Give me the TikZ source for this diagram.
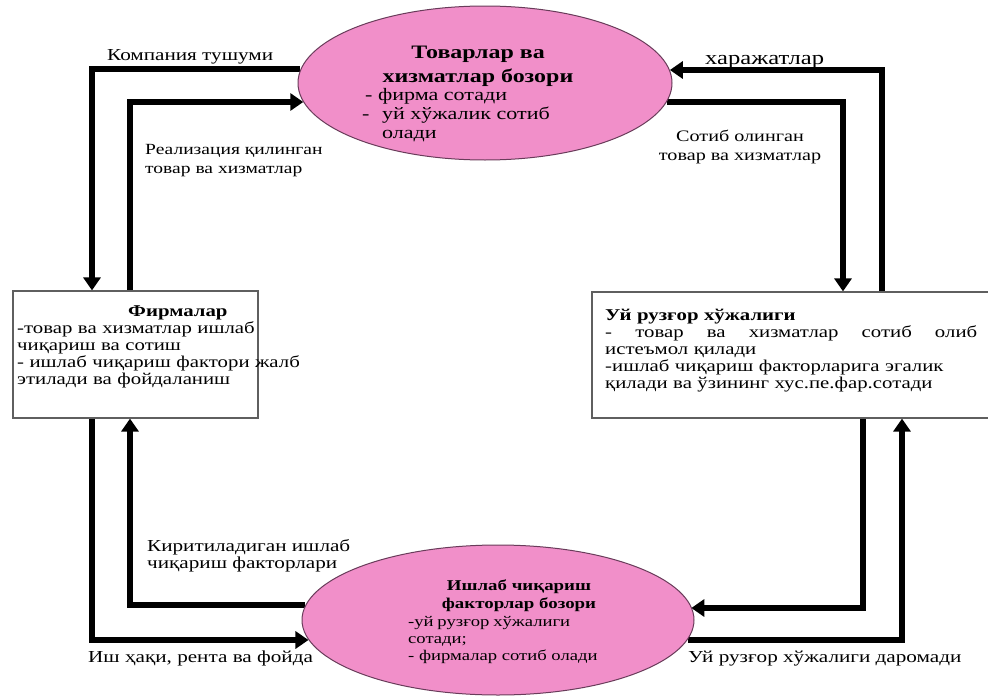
\documentclass[tikz,border=0pt]{standalone}
\usepackage{fontspec}
\setmainfont{Liberation Serif}[FakeStretch=1.26]
\usetikzlibrary{arrows.meta,shapes.geometric}
\definecolor{pinkfill}{RGB}{241,143,201}
\definecolor{ellipseedge}{RGB}{105,60,90}
\definecolor{boxedge}{RGB}{95,95,95}
\pgfdeclarelayer{bg}
\pgfsetlayers{bg,main}
\newcommand\lblf{\fontsize{16.8}{19}\selectfont}
\newcommand\boxf{\fontsize{16.5}{17}\selectfont}
\tikzset{
  flow/.style={line width=5.5pt, draw=black},
  tipflow/.style={flow, -{Triangle[length=13pt,width=17pt]}},
  market/.style={ellipse, draw=ellipseedge, line width=1pt, fill=pinkfill, inner sep=0pt},
  agent/.style={rectangle, draw=boxedge, line width=1.2pt, fill=white, inner sep=0pt},
  txt/.style={inner sep=0pt, text=black},
}
\begin{document}
\begin{tikzpicture}[x=1pt,y=-1pt]
\useasboundingbox (0,0) rectangle (988,696);
\clip (0,0) rectangle (988,696);
% nodes
\node[market, minimum width=374pt, minimum height=154pt] (tm) at (485,83) {};
\node[market, minimum width=392pt, minimum height=150pt] (fm) at (498,620) {};
\node[agent, minimum width=245pt, minimum height=127pt] (firms) at (135.5,354.5) {};
\node[agent, minimum width=400pt, minimum height=126pt] (hh) at (792,355) {};
% corner coordinates
\coordinate (p1) at (92,69);
\coordinate (p2) at (130,102);
\coordinate (q1) at (882,70);
\coordinate (q2) at (843,102);
\coordinate (r1) at (92,640);
\coordinate (r2) at (130,605);
\coordinate (s1) at (902,640);
\coordinate (s2) at (863,608);
\begin{pgfonlayer}{bg}
\fill[white] (0,0) rectangle (988,696);
\draw[tipflow] (tm.176 |- p1) -- (p1) -- (p1 |- firms.north);
\draw[tipflow] (p2 |- firms.north) -- (p2) -- (tm.186 |- p2);
\draw[tipflow] (q1 |- hh.north) -- (q1) -- (tm.4 |- q1);
\draw[tipflow] (tm.354 |- q2) -- (q2) -- (q2 |- hh.north);
\draw[tipflow] (r1 |- firms.south) -- (r1) -- (fm.186 |- r1);
\draw[tipflow] (fm.176 |- r2) -- (r2) -- (r2 |- firms.south);
\draw[tipflow] (s2 |- hh.south) -- (s2) -- (fm.4 |- s2);
\draw[tipflow] (fm.354 |- s1) -- (s1) -- (s1 |- hh.south);
\end{pgfonlayer}
% ellipse texts
\node[txt, anchor=north, align=center, font=\fontsize{19}{24}\selectfont\bfseries] (tmtitle) at (478,41.2)
  {\strut Товарлар ва\\хизматлар бозори};
\node[txt, anchor=north west, align=left, font=\fontsize{17.5}{19}\selectfont] (tmbody) at (362,86.7)
  {\strut\hspace*{3pt}- фирма сотади\\-\hspace{12.5pt}уй хўжалик сотиб\\\hspace*{20pt}олади};
\node[txt, anchor=north, align=center, font=\fontsize{15}{18}\selectfont\bfseries] (fmtitle) at (519,577.4)
  {\strut Ишлаб чиқариш\\факторлар бозори};
\node[txt, anchor=north west, align=left, font=\fontsize{14.8}{17}\selectfont] (fmbody) at (408,614.1)
  {\strut\hbox to 162pt{-уй\hfil\ рузғор\hfil\ хўжалиги}\\сотади;\\- фирмалар сотиб олади};
% box texts
\node[txt, anchor=north west, text width=237pt, font=\boxf] (firmstext) at (17,304.1)
  {\parindent=0pt\strut\hspace*{111pt}\textbf{Фирмалар}\par
   \hbox to 237pt{-товар\hfil\ ва\hfil\ хизматлар\hfil\ ишлаб}
   чиқариш ва сотиш\par
   \hbox to 237pt{-\ ишлаб\hfil\ чиқариш\hfil\ фактори\hfil\ жалб}
   этилади ва фойдаланиш};
\node[txt, anchor=north west, text width=372pt, font=\boxf] (hhtext) at (605,308.1)
  {\parindent=0pt\strut\textbf{Уй рузғор хўжалиги}\par
   \hbox to 372pt{-\hfil\ товар\hfil\ ва\hfil\ хизматлар\hfil\ сотиб\hfil\ олиб}
   истеъмол қилади\par
   -ишлаб чиқариш факторларига эгалик\par
   қилади ва ўзининг хус.пе.фар.сотади};
% connector labels
\node[txt, anchor=base west, font=\lblf] (l1) at (107,60) {Компания тушуми};
\node[txt, anchor=north west, align=left, font=\fontsize{15.5}{19}\selectfont] (l2) at (145,140.7)
  {\strut Реализация қилинган\\товар ва хизматлар};
\node[txt, anchor=base west, font=\fontsize{19.5}{22}\selectfont] (l3) at (705,64) {харажатлар};
\node[txt, anchor=north, align=center, font=\fontsize{16}{19}\selectfont] (l4) at (740,127.7)
  {\strut Сотиб олинган\\товар ва хизматлар};
\node[txt, anchor=north west, align=left, font=\fontsize{16.8}{17}\selectfont] (l5) at (147,539.1)
  {\strut Киритиладиган ишлаб\\чиқариш факторлари};
\node[txt, anchor=base west, font=\lblf] (l6) at (88,662) {Иш ҳақи, рента ва фойда};
\node[txt, anchor=base west, font=\lblf] (l7) at (688,662) {Уй рузғор хўжалиги даромади};
\end{tikzpicture}
\end{document}
